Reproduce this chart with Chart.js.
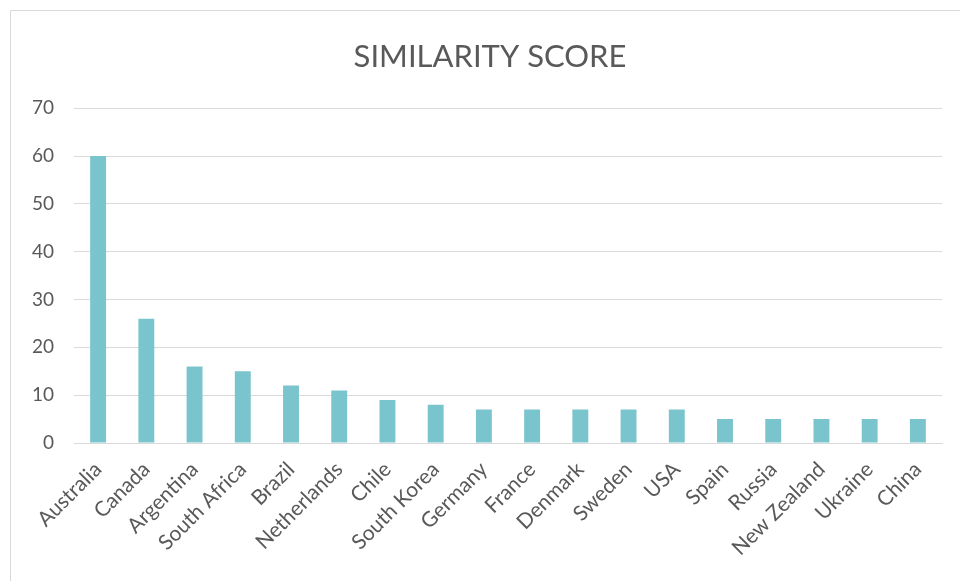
<!DOCTYPE html>
<html>
<head>
<meta charset="utf-8">
<script src="https://cdn.jsdelivr.net/npm/chart.js@4/dist/chart.umd.min.js"></script>
<style>
  html, body { margin: 0; padding: 0; background: #fff; overflow: hidden; }
  #clip { width: 960px; height: 581px; overflow: hidden; }
  #wrap { position: relative; width: 980px; height: 581px; }
</style>
</head>
<body>
<div id="clip"><div id="wrap"><canvas id="scoreChart"></canvas></div></div>
<script>
/* ================= DATA ================= */
const countries = ["Australia", "Canada", "Argentina", "South Africa", "Brazil", "Netherlands",
  "Chile", "South Korea", "Germany", "France", "Denmark", "Sweden", "USA", "Spain",
  "Russia", "New Zealand", "Ukraine", "China"];
const scores = [60, 26, 16, 15, 12, 11, 9, 8, 7, 7, 7, 7, 7, 5, 5, 5, 5, 5];
const yTicks = [0, 10, 20, 30, 40, 50, 60, 70];

/* ================= STYLE ================= */
const FONT = "Lato, 'Open Sans', sans-serif";
const TEXT = "#595959";
const GRID = "#d9d9d9";

/* frame like the office chart box (it runs past the right edge) */
const framePlugin = {
  id: "frame",
  beforeDraw(chart) {
    const c = chart.ctx;
    c.save();
    c.strokeStyle = GRID;
    c.lineWidth = 1;
    c.beginPath();
    c.moveTo(10.5, chart.height);
    c.lineTo(10.5, 10.5);
    c.lineTo(chart.width, 10.5);
    c.stroke();
    c.restore();
  }
};

/* ================= CHART ================= */
new Chart(document.getElementById("scoreChart"), {
  type: "bar",
  data: {
    labels: countries,
    datasets: [{
      label: "Similarity score",
      data: scores,
      backgroundColor: "#7AC5CD",
      categoryPercentage: 1,
      barPercentage: 0.33
    }]
  },
  options: {
    responsive: true,
    maintainAspectRatio: false,
    animation: false,
    layout: { padding: { top: 18, right: 0, left: 0, bottom: 0 } },
    plugins: {
      legend: { display: false },
      tooltip: { enabled: false },
      title: {
        display: true,
        text: "SIMILARITY SCORE",
        color: TEXT,
        font: { family: FONT, size: 31, weight: "normal" },
        padding: { top: 20, bottom: 33 }
      }
    },
    scales: {
      x: {
        grid: { display: false },
        border: { color: GRID },
        ticks: {
          color: TEXT,
          font: { family: FONT, size: 21 },
          minRotation: 45,
          maxRotation: 45,
          autoSkip: false,
          padding: 6
        },
        afterFit(scale) { scale.height = 138; }
      },
      y: {
        min: 0,
        max: 70,
        afterBuildTicks(scale) { scale.ticks = yTicks.map(v => ({ value: v })); },
        grid: { color: GRID, drawTicks: false },
        border: { display: false },
        ticks: {
          color: TEXT,
          font: { family: FONT, size: 19 },
          padding: 20
        },
        afterFit(scale) { scale.width = 74; }
      },
      // empty spacer on the right so the plot stops where the office one does
      spacer: {
        type: "linear",
        position: "right",
        grid: { display: false },
        border: { display: false },
        ticks: { display: false },
        afterFit(scale) { scale.width = 38; }
      }
    }
  },
  plugins: [framePlugin]
});
</script>
</body>
</html>
